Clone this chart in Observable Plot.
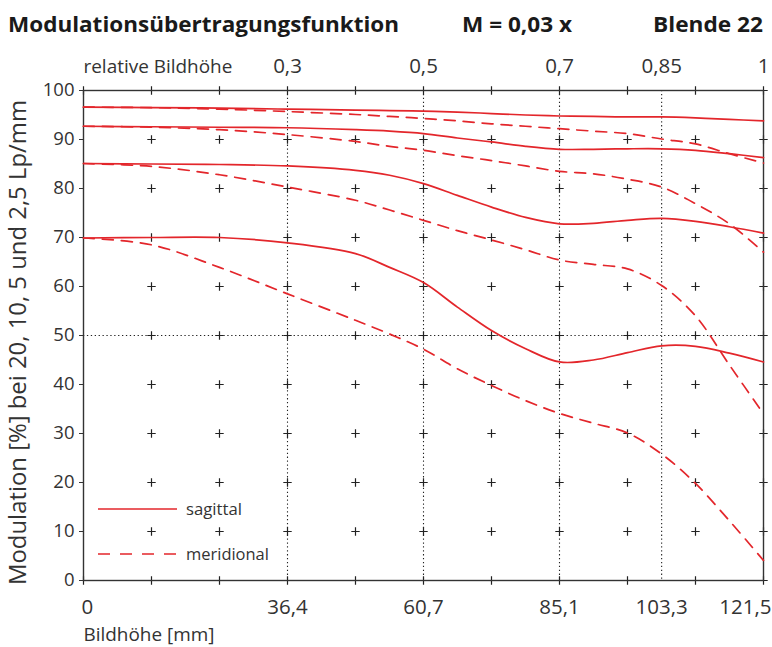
<!DOCTYPE html>
<html><head><meta charset="utf-8">
<script src="https://cdn.jsdelivr.net/npm/d3@7"></script>
<script src="https://cdn.jsdelivr.net/npm/@observablehq/plot@0.6"></script>
<style>
body{margin:0;background:#fff;font-family:"Open Sans",sans-serif;}
#wrap{position:relative;width:772px;height:647px;overflow:hidden;}
#head{display:block;}
#legend{position:absolute;left:0;top:0;pointer-events:none;}
</style></head>
<body><div id="wrap">
<svg id="head" width="772" height="50" font-family="Open Sans" font-weight="700" fill="#1a1a1a">
  <text x="8" y="32" font-size="21" textLength="391" lengthAdjust="spacingAndGlyphs">Modulationsübertragungsfunktion</text>
  <text x="462" y="32" font-size="21" textLength="110" lengthAdjust="spacingAndGlyphs">M = 0,03 x</text>
  <text x="653" y="32" font-size="21" textLength="110" lengthAdjust="spacingAndGlyphs">Blende 22</text>
</svg>
<div id="chart"></div>
<svg id="legend" width="772" height="647" font-family="Open Sans" font-size="17" fill="#333">
  <line x1="98" x2="177" y1="509" y2="509" stroke="#e3262b" stroke-width="1.7"/>
  <line x1="98" x2="177" y1="554" y2="554" stroke="#e3262b" stroke-width="1.7" stroke-dasharray="12,10"/>
  <text class="fit" data-w="56" x="186" y="515">sagittal</text>
  <text class="fit" data-w="83" x="186" y="560">meridional</text>
</svg>
</div>
<script>
// Bildhöhe sample positions [mm]
const xs = [0, 12.15, 24.3, 36.45, 48.6, 54.7, 60.75, 66.8, 72.9, 79, 85.05, 91.1, 97.2, 103.3, 109.35, 115.4, 121.5];
// sagittal (solid) series, top to bottom
const sag1 = [96.6, 96.5, 96.4, 96.2, 96.0, 95.9, 95.8, 95.6, 95.3, 95.0, 94.8, 94.7, 94.6, 94.6, 94.4, 94.1, 93.8];
const sag2 = [92.7, 92.6, 92.5, 92.4, 92.0, 91.7, 91.2, 90.3, 89.5, 88.6, 88.0, 88.0, 88.1, 88.1, 87.8, 87.1, 86.3];
const sag3 = [85.1, 85.0, 84.9, 84.6, 83.7, 82.7, 81.0, 78.6, 76.2, 74.1, 72.8, 72.9, 73.5, 73.9, 73.3, 72.2, 70.9];
const sag4 = [69.9, 70.0, 70.0, 68.9, 66.7, 63.9, 60.8, 55.8, 51.0, 47.3, 44.6, 45.0, 46.5, 47.9, 47.8, 46.4, 44.6];
// meridional (dashed) series
const mer1 = [96.6, 96.5, 96.2, 95.7, 95.1, 94.7, 94.3, 93.8, 93.2, 92.7, 92.2, 91.7, 91.2, 90.1, 89.1, 87.1, 85.2];
const mer2 = [92.7, 92.5, 92.0, 91.0, 89.6, 88.6, 87.8, 86.7, 85.7, 84.6, 83.5, 83.0, 81.9, 80.3, 76.9, 72.8, 67.0];
const mer3 = [85.1, 84.5, 82.8, 80.3, 77.6, 75.6, 73.5, 71.4, 69.5, 67.5, 65.4, 64.5, 63.6, 60.2, 54.0, 44.0, 34.0];
const mer4 = [69.9, 68.5, 63.9, 58.5, 53.1, 50.3, 47.2, 43.2, 39.8, 36.7, 34.1, 32.1, 30.1, 25.8, 19.8, 12.2, 4.1];

const xTicks = [0, 12.15, 24.3, 36.45, 48.6, 60.75, 72.9, 85.05, 97.2, 109.35, 121.5];
const yTicks = [0, 10, 20, 30, 40, 50, 60, 70, 80, 90, 100];
const bottomLabelPos = [0, 36.45, 60.75, 85.05, 103.3, 121.5];
const bottomLabels = ["0", "36,4", "60,7", "85,1", "103,3", "121,5"];
const topLabelPos = [36.45, 60.75, 85.05, 103.3, 121.5];
const topLabels = ["0,3", "0,5", "0,7", "0,85", "1"];
const dottedX = [36.45, 60.75, 85.05, 103.3];
const dottedY = [50];

const sagSeries = {s1: sag1, s2: sag2, s3: sag3, s4: sag4};
const merSeries = {m1: mer1, m2: mer2, m3: mer3, m4: mer4};
const toRows = (obj) => Object.entries(obj).flatMap(([k, v]) => xs.map((x, i) => ({x, y: v[i], k})));
const sagRows = toRows(sagSeries);
const merRows = toRows(merSeries);

const grid = xTicks.flatMap(x => yTicks.filter(y => x !== 0 || y === 0 || y === 100).map(y => ({x, y})));
const plus = {draw(ctx) { const r = 4.2; ctx.moveTo(-r, 0); ctx.lineTo(r, 0); ctx.moveTo(0, -r); ctx.lineTo(0, r); }};

const red = "#e3262b";
const ink = "#333";
const mid = bottomLabels.map((t, i) => ({t, x: bottomLabelPos[i]}));

const chart = Plot.plot({
  width: 772, height: 597,
  marginLeft: 83, marginRight: 9, marginTop: 40, marginBottom: 67,
  style: {fontFamily: "Open Sans", fontSize: "18.5px", color: ink, background: "#fff", overflow: "visible"},
  x: {domain: [0, 121.5], axis: null},
  y: {domain: [0, 100], axis: null},
  marks: [
    Plot.ruleX(dottedX, {stroke: "#222", strokeWidth: 1.1, strokeDasharray: "1.3,2.6"}),
    Plot.ruleY(dottedY, {stroke: "#222", strokeWidth: 1.1, strokeDasharray: "1.3,2.6"}),
    Plot.dot(grid, {x: "x", y: "y", symbol: plus, stroke: "#222", fill: "none", strokeWidth: 1.2}),
    Plot.frame({stroke: ink, strokeWidth: 1.4}),
    Plot.axisY({ticks: yTicks, tickSize: 4, tickPadding: 5, label: null, stroke: ink, fill: ink, fontSize: 18.5}),
    Plot.line(merRows, {x: "x", y: "y", z: "k", stroke: red, strokeWidth: 1.7, strokeDasharray: "11,8", curve: "catmull-rom"}),
    Plot.line(sagRows, {x: "x", y: "y", z: "k", stroke: red, strokeWidth: 1.7, curve: "catmull-rom"}),
    Plot.text(mid.slice(0, 1), {x: "x", text: "t", frameAnchor: "bottom", textAnchor: "start", dx: -2, dy: 33, lineAnchor: "bottom", fill: ink, fontSize: 20.5}),
    Plot.text(mid.slice(1, 5), {x: "x", text: "t", frameAnchor: "bottom", dy: 33, lineAnchor: "bottom", fill: ink, fontSize: 20.5}),
    Plot.text(mid.slice(5), {x: "x", text: "t", frameAnchor: "bottom", textAnchor: "end", dx: 8, dy: 33, lineAnchor: "bottom", fill: ink, fontSize: 20.5}),
    Plot.text(topLabels, {x: (d, i) => topLabelPos[i], text: d => d, frameAnchor: "top", dy: -18, lineAnchor: "bottom", fill: ink, fontSize: 20.5}),
    Plot.text(["relative Bildhöhe"], {frameAnchor: "top-left", textAnchor: "start", dy: -18, lineAnchor: "bottom", fill: ink, fontSize: 19, className: "fit-rel"}),
    Plot.text(["Bildhöhe [mm]"], {frameAnchor: "bottom-left", textAnchor: "start", dy: 60, lineAnchor: "bottom", fill: ink, fontSize: 19, className: "fit-bh"}),
    Plot.text(["Modulation [%] bei 20, 10, 5 und 2,5 Lp/mm"], {frameAnchor: "left", rotate: -90, textAnchor: "middle", dx: -65, dy: 7, fill: ink, fontSize: 20, className: "fit-mod"})
  ]
});
document.getElementById("chart").appendChild(chart);

// fit text widths to the reference's measured widths
function fit(el, w) {
  const fs = parseFloat(getComputedStyle(el).fontSize);
  const len = el.getComputedTextLength();
  if (len > 0) el.setAttribute("font-size", (fs * w / len).toFixed(2));
  el.style.fontSize = "";
}
const fitTargets = [["fit-rel", 149], ["fit-bh", 131], ["fit-mod", 485]];
for (const [cls, w] of fitTargets) {
  chart.querySelectorAll("." + cls + " text").forEach(t => {
    const fs = parseFloat(getComputedStyle(t).fontSize);
    const len = t.getComputedTextLength();
    if (len > 0) t.style.fontSize = (fs * w / len).toFixed(2) + "px";
  });
}
document.querySelectorAll("#legend .fit").forEach(t => fit(t, +t.dataset.w));
</script>
</body></html>
